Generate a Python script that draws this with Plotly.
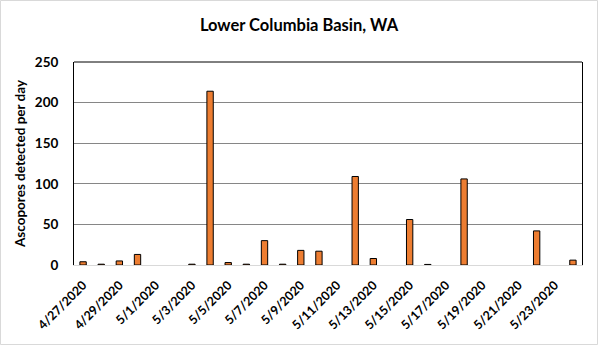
import plotly.graph_objects as go

dates = ["4/27/2020", "4/28/2020", "4/29/2020", "4/30/2020", "5/1/2020", "5/2/2020",
         "5/3/2020", "5/4/2020", "5/5/2020", "5/6/2020", "5/7/2020", "5/8/2020",
         "5/9/2020", "5/10/2020", "5/11/2020", "5/12/2020", "5/13/2020", "5/14/2020",
         "5/15/2020", "5/16/2020", "5/17/2020", "5/18/2020", "5/19/2020", "5/20/2020",
         "5/21/2020", "5/22/2020", "5/23/2020", "5/24/2020"]
ascospores = [4, 1, 5, 13, 0, 0, 1, 214, 3, 1, 30, 1, 18, 17, 0, 109, 8, 0,
              56, 0.7, 0, 106, 0, 0, 0, 42, 0, 6]
tick_labels = dates[::2]
y_ticks = [0, 50, 100, 150, 200, 250]

FONT = "Lato"

fig = go.Figure()
fig.add_trace(go.Bar(
    x=dates, y=ascospores,
    marker=dict(color="#ED7D31",
                line=dict(color="black", width=[1 if v > 0 else 0 for v in ascospores])),
))

W, H = 598, 345
L, R, T, B = 74, 16, 62, 80
pw, ph = W - L - R, H - T - B

fig.update_layout(
    width=W, height=H,
    margin=dict(l=L, r=R, t=T, b=B, autoexpand=False),
    paper_bgcolor="white", plot_bgcolor="white",
    bargap=0.65,
    showlegend=False,
    font=dict(family=FONT, color="black"),
    title=dict(text="<b>Lower Columbia Basin, WA</b>", x=0.5, xanchor="center",
               y=1 - 25 / H, yanchor="middle", font=dict(size=16.5, family=FONT, color="black")),
    xaxis=dict(
        type="category", categoryorder="array", categoryarray=dates,
        tickmode="array", tickvals=tick_labels,
        ticktext=[f"<b>{t}</b>" for t in tick_labels],
        tickangle=-45, tickfont=dict(size=12.5, family=FONT, color="black"),
        showline=True, linecolor="#d9d9d9", linewidth=1,
        showgrid=False, ticks="", ticklabelstandoff=7, automargin=False,
    ),
    yaxis=dict(
        range=[0, 250], tickvals=y_ticks,
        ticktext=[f"<b>{v}</b>" for v in y_ticks],
        tickfont=dict(size=13.5, family=FONT, color="black"),
        showgrid=True, gridcolor="#868686", gridwidth=1,
        zeroline=False, automargin=False,
        showline=True, linecolor="black", linewidth=1, mirror=True,
        ticks="", ticklabelstandoff=12,
        title=dict(text="<b>Ascopores detected per day</b>", font=dict(size=13.5, family=FONT, color="black"),
                   standoff=6),
    ),
    shapes=[
        dict(type="line", xref="paper", yref="paper", x0=0, x1=1, y0=1, y1=1,
             line=dict(color="black", width=1)),
        dict(type="rect", xref="paper", yref="paper",
             x0=(0.5 - L) / pw, x1=(W - 0.5 - L) / pw,
             y0=-(B - 0.5) / ph, y1=1 + (T - 0.5) / ph,
             line=dict(color="#d9d9d9", width=1)),
    ],
)

fig.write_html("out.html")
